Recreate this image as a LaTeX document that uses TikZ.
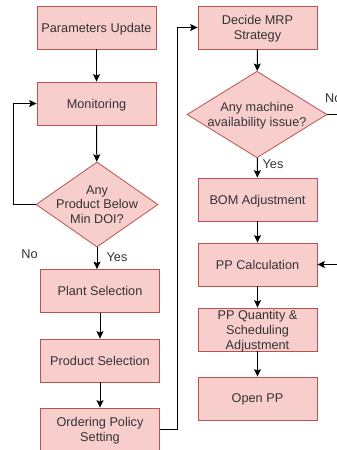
\documentclass[tikz,border=0pt]{standalone}
\usepackage{fontspec}
\setmainfont{Liberation Sans}
\usetikzlibrary{arrows.meta,positioning,shapes.geometric}
\definecolor{BoxFill}{HTML}{F8CECC}
\definecolor{BoxLine}{HTML}{B85450}
\definecolor{Txt}{HTML}{333333}
\tikzset{
  >={Stealth[length=7.5pt,width=7pt,inset=1.5pt]},
  proc/.style={rectangle,draw=BoxLine,line width=.8pt,fill=BoxFill,minimum width=119pt,minimum height=43pt,
    inner sep=1pt,align=center,text=Txt,text depth=0pt,font=\fontsize{12.7}{15}\selectfont},
  dec/.style={diamond,draw=BoxLine,line width=.8pt,fill=BoxFill,inner xsep=-12pt,inner ysep=-6pt,
    align=center,text=Txt,text depth=0pt,font=\fontsize{12.7}{14.5}\selectfont},
  flow/.style={->,line width=1pt,draw=black},
  link/.style={line width=1pt,draw=black},
  lab/.style={text=Txt,inner sep=1pt,font=\fontsize{12.7}{15}\selectfont}
}
\begin{document}
\begin{tikzpicture}[x=1pt,y=-1pt]
    \useasboundingbox (0,0) rectangle (337,450);
    \fill[white] (0,0) rectangle (337,450);
    \clip (0,0) rectangle (337,450);
    % left column
    \node[proc] (par) at (96.5,27.5) {Parameters Update};
    \node[proc] (mon) at (96.5,103.5) {Monitoring};
    \node[dec,minimum width=122pt,minimum height=85pt] (dmin) at (97,204.5) {Any\\Product Below\\Min DOI?};
    \node[proc] (plant) at (100,291) {Plant Selection};
    \node[proc] (prod) at (100,360.5) {Product Selection};
    \node[proc] (order) at (100,429.5) {Ordering Policy\\Setting};
    % right column
    \node[proc] (mrp) at (257.5,27.5) {Decide MRP\\Strategy};
    \node[dec,minimum width=140pt,minimum height=85pt] (dmach) at (257,114.5) {Any machine\\availability issue?};
    \node[proc] (bom) at (257.5,199.5) {BOM Adjustment};
    \node[proc] (ppc) at (257.5,264.5) {PP Calculation};
    \node[proc] (ppq) at (257.5,329.5) {PP Quantity \&\\Scheduling\\Adjustment};
    \node[proc] (open) at (257.5,398.5) {Open PP};
    % labels
    \node[lab] at (29.5,254) {No};
    \node[lab] at (117,257) {Yes};
    \node[lab] at (273,164) {Yes};
    \node[lab,anchor=west] at (324,98) {No};
    % connectors
    \draw[flow] (par) -- (mon);
    \draw[flow] (mon) -- (dmin);
    \draw[link] (dmin.west) -- ++(-22,0) coordinate (back);
    \draw[flow] (back) |- (mon.west);
    \draw[flow] (dmin.south) -- (dmin.south |- plant.north);
    \draw[flow] (plant) -- (prod);
    \draw[flow] (prod) -- (order);
    \draw[flow] (order.east) -- ++(18,0) |- (mrp.west);
    \draw[flow] (mrp) -- (dmach);
    \draw[flow] (dmach) -- (bom);
    \draw[flow] (dmach.east) -- ++(30,0) |- (ppc.east);
    \draw[flow] (bom) -- (ppc);
    \draw[flow] (ppc) -- (ppq);
    \draw[flow] (ppq) -- (open);
  \end{tikzpicture}
\end{document}
